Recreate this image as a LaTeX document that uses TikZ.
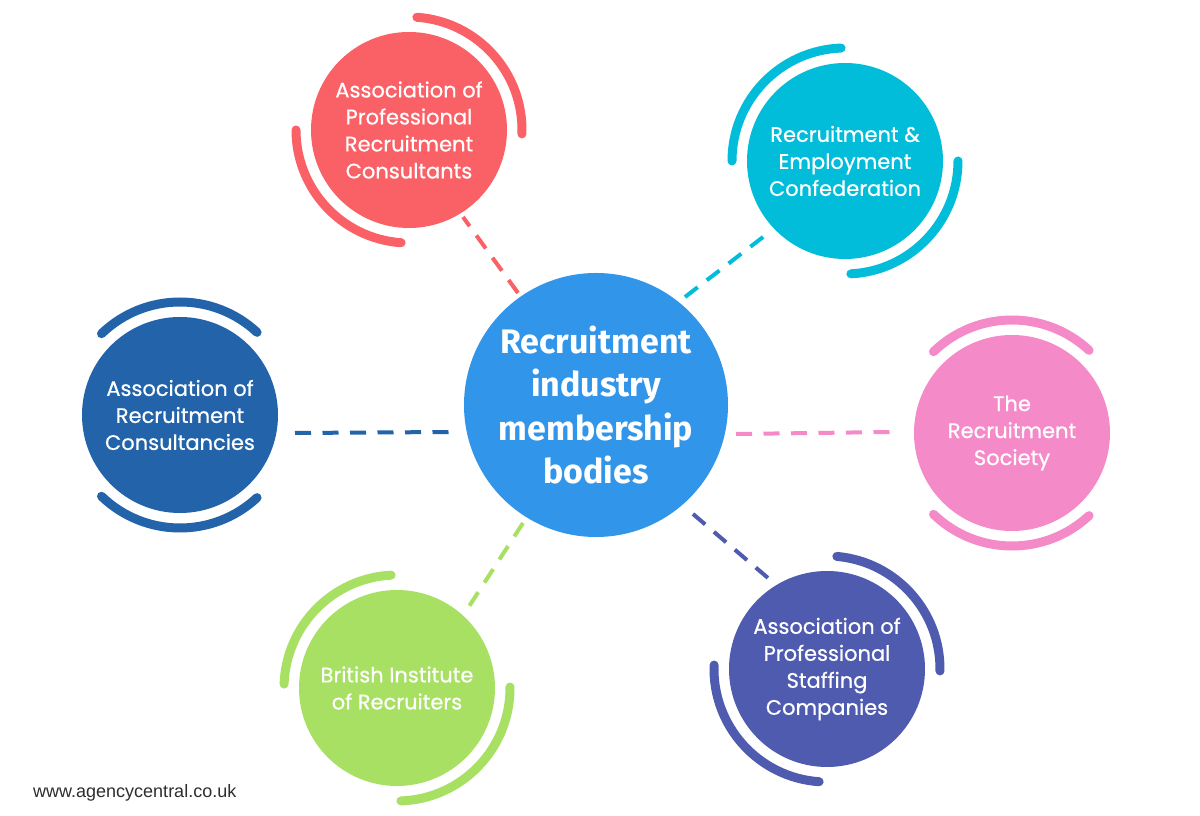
\documentclass[tikz,border=0pt]{standalone}
\usepackage{fontspec}
\setmainfont{Poppins}[FakeBold=0.6]
\newfontfamily\centerfont{Fira Sans}
\newfontfamily\footfont{Liberation Sans}
\usetikzlibrary{calc}
\definecolor{cblue}{HTML}{3195E9}
\definecolor{cred}{HTML}{F96167}
\definecolor{ccyan}{HTML}{02BDDA}
\definecolor{cdblue}{HTML}{2263A9}
\definecolor{cpink}{HTML}{F58AC9}
\definecolor{cgreen}{HTML}{A8E063}
\definecolor{cpurple}{HTML}{4E5BAE}
\definecolor{cfoot}{HTML}{2E2E2E}
\tikzset{
  satnode/.style={circle, minimum size=196pt, inner sep=0pt, align=center, text=white,
    font=\fontsize{21}{27}\selectfont},
  hubnode/.style={circle, minimum size=264pt, inner sep=0pt, align=center, text=white,
    fill=cblue, font=\centerfont\bfseries\fontsize{34}{43.5}\selectfont},
  ringline/.style={line width=9pt, line cap=round},
  linkline/.style={line width=4pt, dash pattern=on 16pt off 11.5pt}
}
\begin{document}
\begin{tikzpicture}[x=1pt,y=1pt]
\useasboundingbox (0,0) rectangle (1200,816);
\fill[white] (0,0) rectangle (1200,816);
% centres (invisible anchors for connectors)
\coordinate (cc) at (596,411);
\coordinate (aprcc) at (409,686);
\coordinate (recc) at (845,655);
\coordinate (arcc) at (180,401);
\coordinate (trsc) at (1012,383);
\coordinate (birc) at (397,128);
\coordinate (apscc) at (827,147);
% connectors (under circles)
\draw[linkline, cred] ($(cc)+(-78,112)$) -- ($(aprcc)+(54,-87)$);
\draw[linkline, ccyan] ($(cc)+(89,108)$) -- ($(recc)+(-78,-73)$);
\draw[linkline, cdblue] ($(arcc)+(115,-18)$) -- ($(cc)+(-145,-27)$);
\draw[linkline, cpink] ($(cc)+(140,-29)$) -- ($(trsc)+(-121,1)$);
\draw[linkline, cgreen] ($(cc)+(-73,-118)$) -- ($(birc)+(71,80)$);
\draw[linkline, cpurple] ($(cc)+(97,-109)$) -- ($(apscc)+(-59,91)$);
% circles
\node[hubnode] (hub) at (cc) {Recruitment\\industry\\membership\\bodies};
\node[satnode, fill=cred] (aprc) at (aprcc) {Association of\\Professional\\Recruitment\\Consultants};
\node[satnode, fill=ccyan] (rec) at (recc) {Recruitment \&\\Employment\\Confederation};
\node[satnode, fill=cdblue] (arc) at (arcc) {Association of\\Recruitment\\Consultancies};
\node[satnode, fill=cpink] (trs) at (trsc) {The\\Recruitment\\Society};
\node[satnode, fill=cgreen] (bir) at (birc) {British Institute\\of Recruiters};
\node[satnode, fill=cpurple] (apsc) at (apscc) {Association of\\Professional\\Staffing\\Companies};
% decorative arcs
\draw[ringline, cred] ($(aprc.center)+(-2:113)$) arc[start angle=-2, end angle=86, radius=113];
\draw[ringline, cred] ($(aprc.center)+(180:113)$) arc[start angle=180, end angle=266, radius=113];
\draw[ringline, ccyan] ($(rec.center)+(92:113)$) arc[start angle=92, end angle=180, radius=113];
\draw[ringline, ccyan] ($(rec.center)+(-87:113)$) arc[start angle=-87, end angle=0, radius=113];
\draw[ringline, cdblue] ($(arc.center)+(47:113)$) arc[start angle=47, end angle=134, radius=113];
\draw[ringline, cdblue] ($(arc.center)+(-134:113)$) arc[start angle=-134, end angle=-47, radius=113];
\draw[ringline, cpink] ($(trs.center)+(47:113)$) arc[start angle=47, end angle=134, radius=113];
\draw[ringline, cpink] ($(trs.center)+(-134:113)$) arc[start angle=-134, end angle=-47, radius=113];
\draw[ringline, cgreen] ($(bir.center)+(93:113)$) arc[start angle=93, end angle=178, radius=113];
\draw[ringline, cgreen] ($(bir.center)+(-88:113)$) arc[start angle=-88, end angle=0.5, radius=113];
\draw[ringline, cpurple] ($(apsc.center)+(-1:113)$) arc[start angle=-1, end angle=85, radius=113];
\draw[ringline, cpurple] ($(apsc.center)+(178:113)$) arc[start angle=178, end angle=266, radius=113];
% footer
\node[anchor=base west, inner sep=0pt, text=cfoot, font=\footfont\fontsize{18}{20}\selectfont] (foot) at (33,18) {www.agencycentral.co.uk};
\end{tikzpicture}
\end{document}
